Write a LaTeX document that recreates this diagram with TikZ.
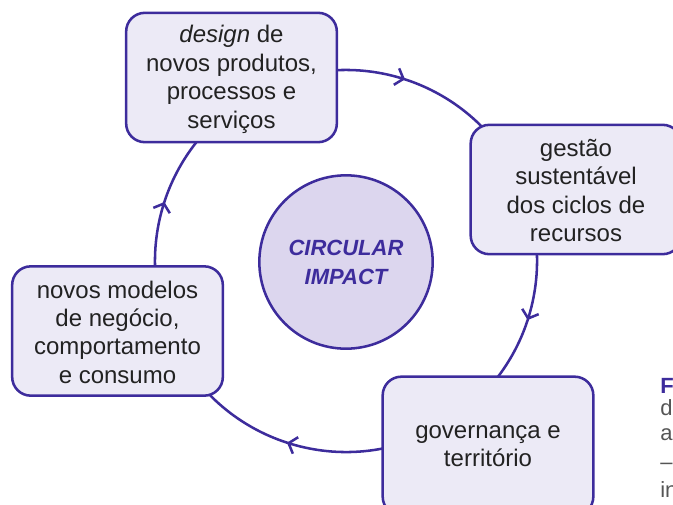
\documentclass[tikz,border=0pt]{standalone}
\usepackage{fontspec}
\setmainfont{Liberation Sans}
\usetikzlibrary{arrows.meta,decorations.markings}
\definecolor{ink}{HTML}{3D2C9C}
\definecolor{boxfill}{HTML}{ECEAF6}
\definecolor{hubfill}{HTML}{DCD6EE}
\definecolor{txt}{HTML}{222222}
\definecolor{captext}{HTML}{555555}
\begin{document}
\begin{tikzpicture}[x=0.75pt,y=0.75pt,
  stage/.style={draw=ink, line width=1.9pt, fill=boxfill, rounded corners=14pt,
    minimum width=158pt, minimum height=97pt, align=center, text=txt, inner sep=2pt,
    text depth=0pt, font=\fontsize{18}{21.3}\selectfont},
  hub/.style={circle, draw=ink, line width=1.9pt, fill=hubfill, minimum size=130pt,
    align=center, text=ink, inner sep=0pt, font=\fontsize{16.5}{21.75}\selectfont\bfseries\itshape},
  ring/.style={draw=ink, line width=1.9pt, postaction={decorate},
    decoration={markings, mark=at position 0.5 with {\arrow{Straight Barb[length=5.5pt,width=13pt]}}}},
  captxt/.style={anchor=base west, inner sep=0pt, text=captext, font=\fontsize{16.5}{20}\selectfont}]
\useasboundingbox (0,0) rectangle (673,-504);
\clip (0,0) rectangle (673,-504);
\coordinate (c) at (346,-261);
\draw[ring] (c) ++(117:191) arc[start angle=117, end angle=27, radius=191];
\draw[ring] (c) ++(27:191) arc[start angle=27, end angle=-63, radius=191];
\draw[ring] (c) ++(-63:191) arc[start angle=-63, end angle=-153, radius=191];
\draw[ring] (c) ++(-153:191) arc[start angle=-153, end angle=-243, radius=191];
\node[stage, text height=75.8pt] (design) at (231.5,-77.5) {\textit{design} de\\novos produtos,\\processos e\\serviços};
\node[stage, text height=78.3pt] (gestao) at (576,-189.5) {gestão\\sustentável\\dos ciclos de\\recursos};
\node[stage, text height=78.5pt] (modelos) at (117.5,-331) {novos modelos\\de negócio,\\comportamento\\e consumo};
\node[stage, minimum height=104pt, text height=31pt] (gov) at (488,-446) {governança e\\território};
\node[hub] (hub) at (346,-262) {CIRCULAR\\IMPACT};
\node[captxt, text=ink, font=\fontsize{16.5}{20}\selectfont\bfseries] (f1) at (660,-393) {Figura};
\node[captxt] (f2) at (660,-415) {da};
\node[captxt] (f3) at (660,-440) {a};
\node[captxt] (f4) at (660,-469) {–};
\node[captxt] (f5) at (660,-497) {in};
\end{tikzpicture}
\end{document}
